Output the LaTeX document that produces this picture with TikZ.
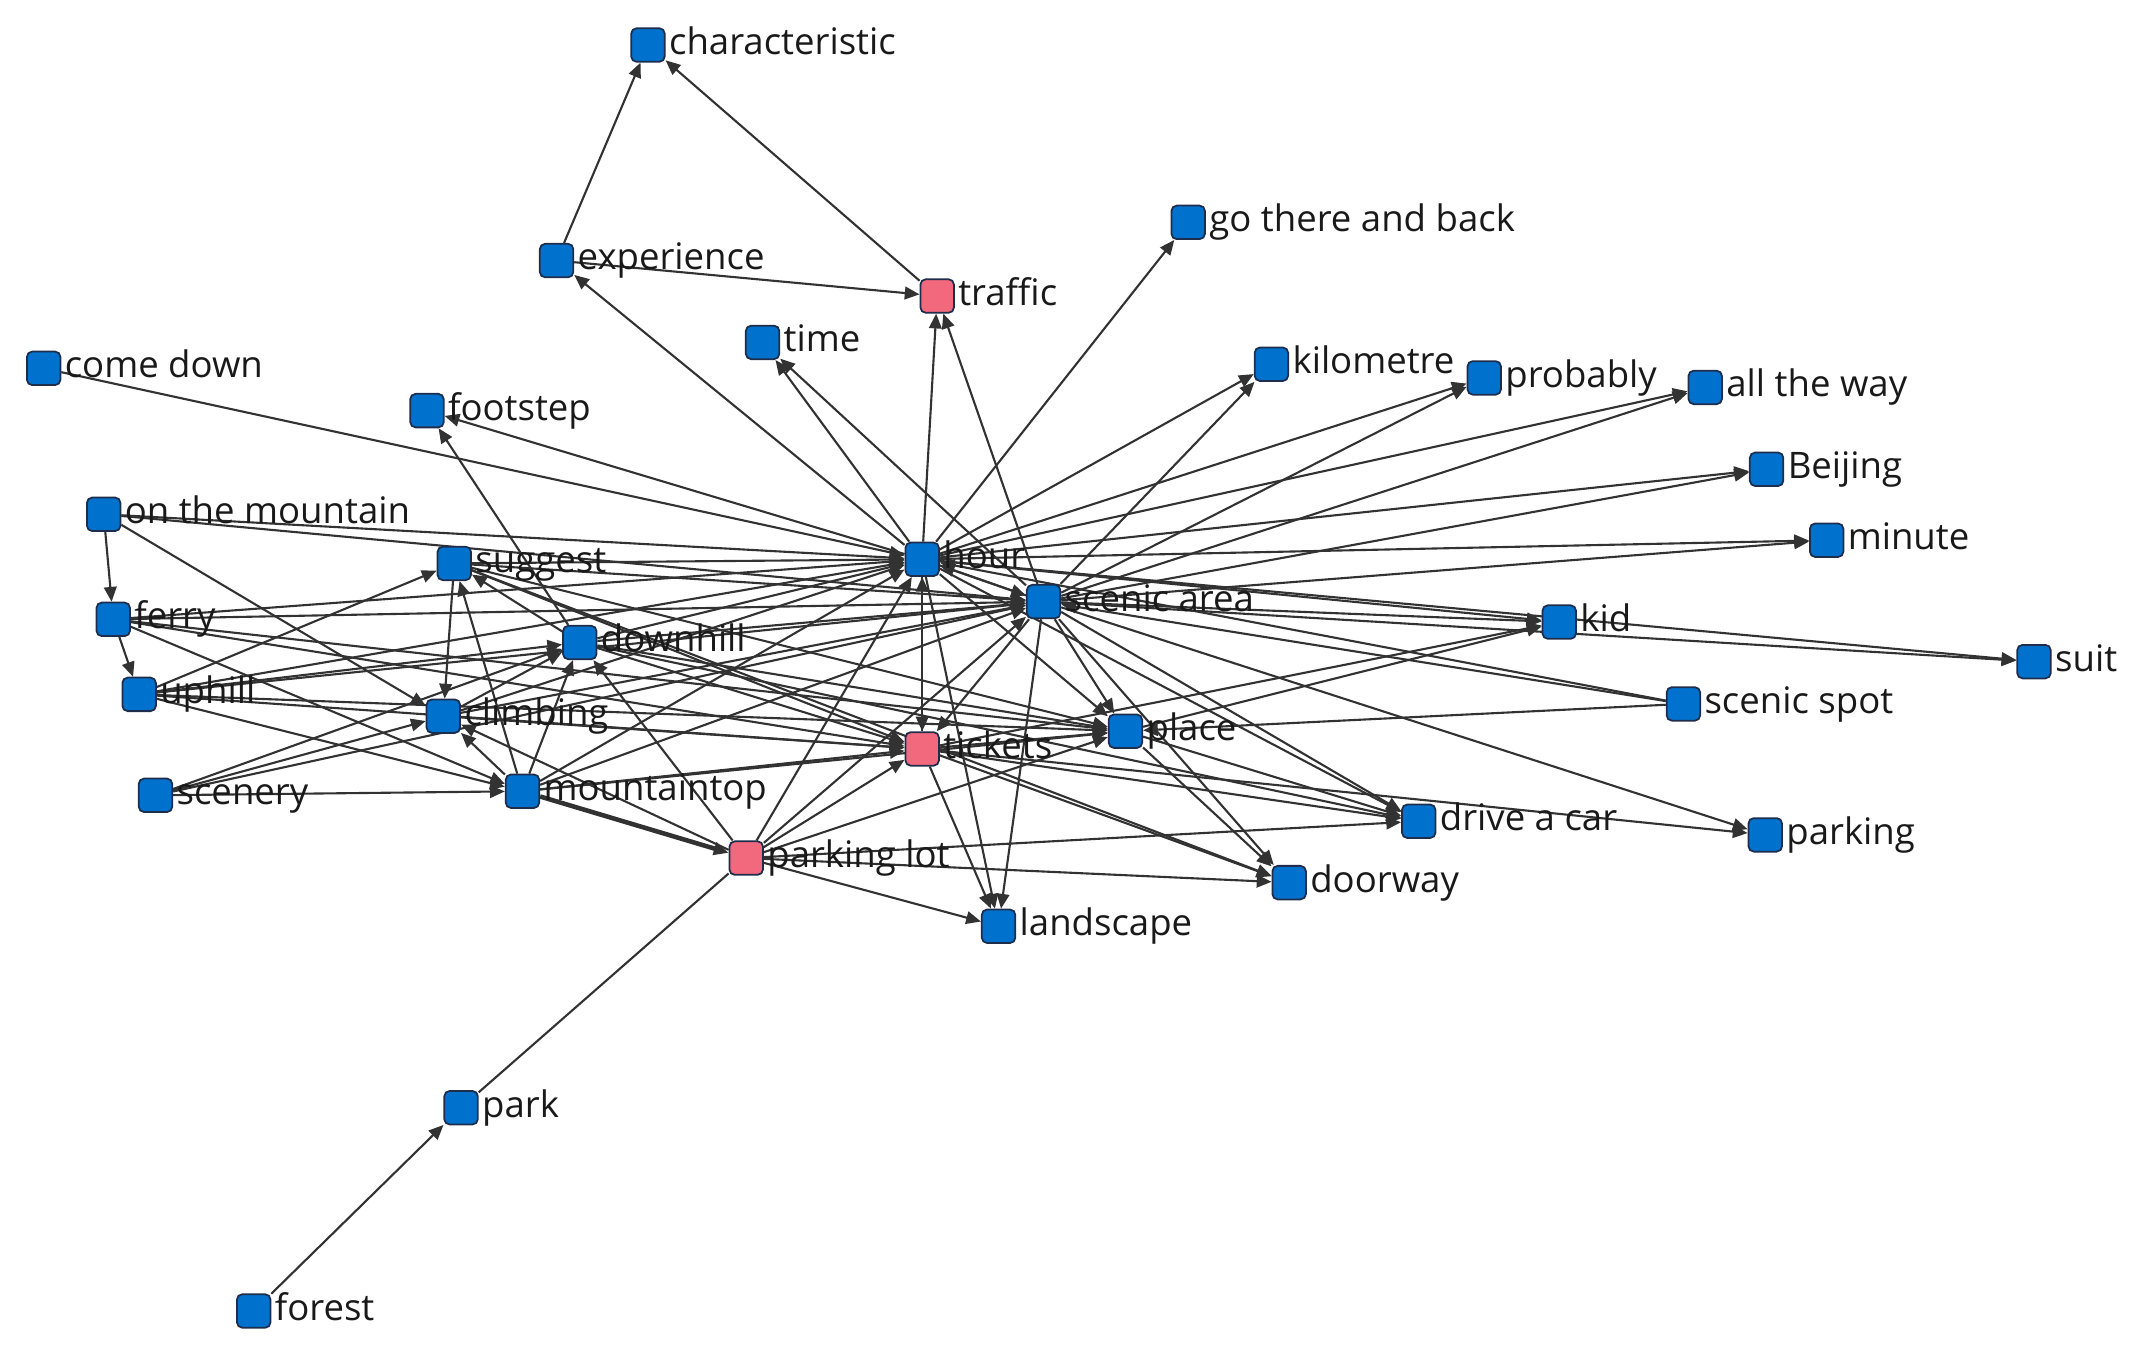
\documentclass[tikz,border=0pt]{standalone}
\usepackage{fontspec}
\setmainfont{Open Sans}
\usetikzlibrary{arrows.meta}
\pgfdeclarelayer{bg}
\pgfsetlayers{bg,main}
\definecolor{nodeblue}{RGB}{0,114,206}
\definecolor{nodepink}{RGB}{242,104,124}
\definecolor{nodeedge}{RGB}{30,45,75}
\definecolor{linegray}{RGB}{50,50,50}
\tikzset{
  bnode/.style={draw=nodeedge, line width=0.5pt, fill=nodeblue, rounded corners=1.5pt,
    minimum size=0.335cm, inner sep=0pt},
  pnode/.style={bnode, fill=nodepink},
  lbl/.style={anchor=mid west, inner xsep=0.8pt, inner ysep=0pt,
    font=\fontsize{10.4}{12}\selectfont, text=black!90},
  plain/.style={draw=linegray, line width=0.6pt},
  edge/.style={plain, -{Triangle[length=4.2pt,width=3.6pt]}},
  heavy/.style={edge, line width=1.3pt}
}
\begin{document}
\begin{tikzpicture}[x=0.013642cm, y=-0.013642cm]
\useasboundingbox (0,0) rectangle (1568,995);
% nodes
\foreach \id/\xx/\yy/\txt/\sty in {
  char/475/33/characteristic/bnode,
  exper/408/191/experience/bnode,
  traffic/687/217/traffic/pnode,
  goback/871/163/go there and back/bnode,
  time/559/251/time/bnode,
  comedown/32/270/come down/bnode,
  footstep/313/301/footstep/bnode,
  kilo/932/267/kilometre/bnode,
  prob/1088/277/probably/bnode,
  allway/1250/284/all the way/bnode,
  beijing/1295/344/Beijing/bnode,
  onmount/76/377/on the mountain/bnode,
  minute/1339/396/minute/bnode,
  suggest/333/413/suggest/bnode,
  hour/676/410/hour/bnode,
  scenic/765/441/scenic area/bnode,
  ferry/83/454/ferry/bnode,
  kid/1143/456/kid/bnode,
  downhill/425/471/downhill/bnode,
  suit/1491/485/suit/bnode,
  uphill/102/509/uphill/bnode,
  climbing/325/525/climbing/bnode,
  spot/1234/516/scenic spot/bnode,
  place/825/536/place/bnode,
  tickets/676/549/tickets/pnode,
  scenery/114/583/scenery/bnode,
  mtop/383/580/mountaintop/bnode,
  drive/1040/602/drive a car/bnode,
  parking/1294/612/parking/bnode,
  plot/547/629/parking lot/pnode,
  doorway/945/647/doorway/bnode,
  landscape/732/679/landscape/bnode,
  park/338/812/park/bnode,
  forest/186/961/forest/bnode}
{
  \node[\sty] (\id) at (\xx,\yy) {};
  \node[lbl] (\id-l) at (\id.east) {\txt};
}
% edges
\begin{pgfonlayer}{bg}
\foreach \a/\b in {
  exper/char, traffic/char, exper/traffic, hour/exper,
  hour/traffic, scenic/traffic, hour/time, scenic/time,
  hour/goback, hour/kilo, scenic/kilo, hour/prob, scenic/prob,
  hour/allway, scenic/allway, hour/beijing, scenic/beijing,
  hour/minute, scenic/minute, hour/kid, scenic/kid, place/kid, tickets/kid,
  hour/suit, scenic/suit, spot/hour, spot/scenic, spot/place,
  scenic/parking, tickets/parking,
  hour/drive, scenic/drive, tickets/drive, plot/drive, place/drive,
  place/doorway, scenic/doorway, plot/doorway, tickets/doorway,
  hour/landscape, scenic/landscape, tickets/landscape, plot/landscape,
  hour/tickets, tickets/hour, scenic/tickets, hour/scenic, scenic/hour,
  hour/place, scenic/place, tickets/place,
  plot/hour, plot/scenic, plot/tickets, plot/place,
  forest/park,
  comedown/hour, onmount/ferry, ferry/uphill, onmount/climbing,
  onmount/hour, onmount/scenic, hour/footstep, downhill/footstep,
  suggest/hour, suggest/scenic, suggest/climbing, mtop/suggest,
  downhill/suggest, suggest/tickets, suggest/place, uphill/suggest,
  ferry/hour, ferry/scenic, ferry/mtop, ferry/tickets, ferry/place,
  uphill/hour, uphill/scenic, uphill/downhill, uphill/mtop,
  uphill/tickets, uphill/place,
  climbing/downhill, climbing/hour, climbing/scenic, climbing/tickets,
  mtop/climbing, mtop/downhill, mtop/hour, mtop/scenic, mtop/tickets,
  mtop/place,
  scenery/mtop, scenery/climbing, scenery/downhill, scenery/scenic,
  downhill/hour, downhill/scenic, downhill/tickets, downhill/place,
  downhill/drive, plot/downhill, plot/climbing, suggest/doorway}
{
  \draw[edge] (\a) -- (\b);
}
\draw[heavy] (mtop) -- (plot);
\draw[plain] (plot) -- (park);
\end{pgfonlayer}
\end{tikzpicture}
\end{document}
